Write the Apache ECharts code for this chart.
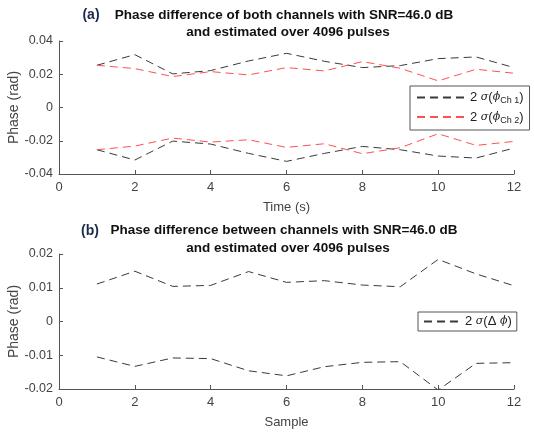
<!DOCTYPE html>
<html>
<head>
<meta charset="utf-8">
<script src="https://cdn.jsdelivr.net/npm/echarts@6/dist/echarts.min.js"></script>
<style>
  html, body { margin: 0; padding: 0; background: #fff; }
  #chart { width: 534px; height: 434px; }
</style>
</head>
<body>
<div id="chart"></div>
<script>
// values, x = 1..12
const samples = [1, 2, 3, 4, 5, 6, 7, 8, 9, 10, 11, 12];

const ch1Upper = [0.0254, 0.0318, 0.0202, 0.0222, 0.0280, 0.0326, 0.0278, 0.0240, 0.0252, 0.0294, 0.0304, 0.0240];
const ch1Lower = [-0.0254, -0.0316, -0.0202, -0.0220, -0.0276, -0.0324, -0.0276, -0.0234, -0.0254, -0.0292, -0.0304, -0.0244];
const ch2Upper = [0.0254, 0.0234, 0.0186, 0.0216, 0.0196, 0.0240, 0.0220, 0.0276, 0.0236, 0.0160, 0.0230, 0.0206];
const ch2Lower = [-0.0254, -0.0232, -0.0184, -0.0208, -0.0194, -0.0240, -0.0218, -0.0278, -0.0242, -0.0158, -0.0228, -0.0204];

const diffUpper = [0.0111, 0.0149, 0.0104, 0.0107, 0.0148, 0.0116, 0.0121, 0.0108, 0.0103, 0.0184, 0.0141, 0.0106];
const diffLower = [-0.0105, -0.0133, -0.0108, -0.0110, -0.0146, -0.0161, -0.0134, -0.0121, -0.0119, -0.0203, -0.0124, -0.0122];

const FONT = "Liberation Sans, Arial, sans-serif";
const BLACK = "#3a3a3a";
const RED = "#ff5050";
const DASH = [8, 5];

function pairs(ys) {
  return samples.map((x, i) => [x, ys[i]]);
}

function dashed(name, color, ys, axisIdx) {
  return {
    type: "line",
    name: name,
    xAxisIndex: axisIdx,
    yAxisIndex: axisIdx,
    data: pairs(ys),
    symbol: "none",
    silent: true,
    lineStyle: { color: color, width: 1, type: DASH },
    itemStyle: { color: color },
  };
}

function xAx(gi, name) {
  return {
    type: "value",
    gridIndex: gi,
    min: 0, max: 12, interval: 2,
    name: name,
    nameLocation: "middle",
    nameGap: 27,
    nameMoveOverlap: false,
    nameTextStyle: { color: "#444", fontSize: 13, fontFamily: FONT },
    axisLine: { show: true, onZero: false, lineStyle: { color: "#555" } },
    axisTick: { show: true, inside: true, length: 4, lineStyle: { color: "#555" } },
    axisLabel: { color: "#444", fontSize: 13, fontFamily: FONT, margin: 7 },
    splitLine: { show: false },
  };
}

function yAx(gi, lim, step) {
  return {
    type: "value",
    gridIndex: gi,
    min: -lim, max: lim, interval: step,
    name: "Phase (rad)",
    nameLocation: "middle",
    nameGap: 38,
    nameMoveOverlap: false,
    nameTextStyle: { color: "#444", fontSize: 14, fontFamily: FONT },
    axisLine: { show: true, onZero: false, lineStyle: { color: "#555" } },
    axisTick: { show: true, inside: true, length: 4, lineStyle: { color: "#555" } },
    axisLabel: { color: "#444", fontSize: 12.5, fontFamily: FONT, margin: 6 },
    splitLine: { show: false },
  };
}

const legendRich = {
  g: { fontFamily: "DejaVu Serif", fontStyle: "italic", fontSize: 11, color: "#222" },
  sub: { fontSize: 9, color: "#222", fontFamily: FONT, padding: [7, 0, 0, 0] },
};

function legendLabel(name) {
  if (name === "ch1") return "2 {g|σ}({g|ϕ}{sub|Ch 1})";
  if (name === "ch2") return "2 {g|σ}({g|ϕ}{sub|Ch 2})";
  return "2 {g|σ}(Δ {g|ϕ})";
}

function title(x, y, text) {
  return {
    type: "text", x: x, y: y,
    style: { text: text, fill: "#111", font: "bold 13.5px " + FONT, textAlign: "center", textVerticalAlign: "middle" },
  };
}
function tag(x, y, text) {
  return {
    type: "text", x: x, y: y,
    style: { text: text, fill: "#1a2a4a", font: "bold 14px " + FONT, textAlign: "center", textVerticalAlign: "middle" },
  };
}

const chart = echarts.init(document.getElementById("chart"), null, { renderer: "canvas" });

chart.setOption({
  animation: false,
  backgroundColor: "#fff",
  grid: [
    { left: 59, top: 41, width: 455, height: 133, outerBoundsMode: "none", containLabel: false },
    { left: 59, top: 254, width: 455, height: 135, outerBoundsMode: "none", containLabel: false },
  ],
  xAxis: [xAx(0, "Time (s)"), xAx(1, "Sample")],
  yAxis: [yAx(0, 0.04, 0.02), yAx(1, 0.02, 0.01)],
  legend: [
    {
      data: ["ch1", "ch2"],
      orient: "vertical",
      left: 410, top: 86,
      padding: [5, 6, 5, 6],
      itemGap: 5,
      itemWidth: 48, itemHeight: 14,
      borderColor: "#555", borderWidth: 1,
      backgroundColor: "#fff",
      selectedMode: false,
      itemStyle: { opacity: 0 },
      formatter: legendLabel,
      textStyle: { color: "#222", fontSize: 13, fontFamily: FONT, rich: legendRich },
    },
    {
      data: ["diff"],
      orient: "vertical",
      left: 418, top: 312,
      padding: [3, 5, 3, 5],
      itemWidth: 36, itemHeight: 14,
      borderColor: "#555", borderWidth: 1,
      backgroundColor: "#fff",
      selectedMode: false,
      itemStyle: { opacity: 0 },
      formatter: legendLabel,
      textStyle: { color: "#222", fontSize: 13, fontFamily: FONT, rich: legendRich },
    },
  ],
  graphic: [
    tag(91, 15, "(a)"),
    title(284, 15, "Phase difference of both channels with SNR=46.0 dB"),
    title(288, 32, "and estimated over 4096 pulses"),
    tag(90, 231, "(b)"),
    title(284, 230, "Phase difference between channels with SNR=46.0 dB"),
    title(288, 248, "and estimated over 4096 pulses"),
  ],
  series: [
    dashed("ch1", BLACK, ch1Upper, 0),
    dashed("ch1", BLACK, ch1Lower, 0),
    dashed("ch2", RED, ch2Upper, 0),
    dashed("ch2", RED, ch2Lower, 0),
    dashed("diff", BLACK, diffUpper, 1),
    dashed("diff", BLACK, diffLower, 1),
  ],
});
</script>
</body>
</html>
